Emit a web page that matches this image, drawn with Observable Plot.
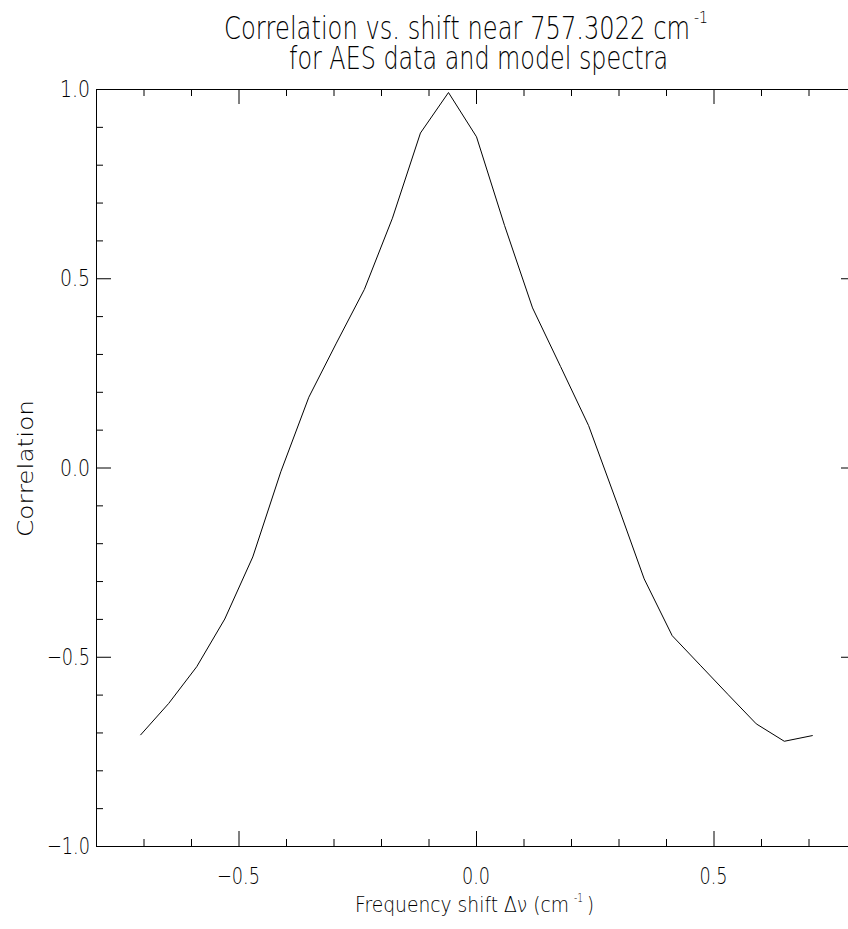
<!DOCTYPE html>
<html><head><meta charset="utf-8">
<script src="https://cdn.jsdelivr.net/npm/d3@7"></script>
<script src="https://cdn.jsdelivr.net/npm/@observablehq/plot@0.6"></script>
<style>
html,body{margin:0;padding:0;background:#fff;overflow:hidden;}
#chart svg{display:block;}
</style></head><body><div id="chart"></div>
<script>
// ---- data ----
const xShift = [-0.707,-0.648,-0.589,-0.530,-0.471,-0.412,-0.353,-0.295,-0.236,-0.177,-0.118,-0.059,0.000,0.059,0.118,0.177,0.236,0.295,0.353,0.412,0.471,0.530,0.589,0.648,0.707];
const correlation = [-0.705,-0.622,-0.525,-0.399,-0.235,-0.010,0.187,0.330,0.472,0.660,0.885,0.992,0.875,0.641,0.423,0.268,0.112,-0.090,-0.293,-0.443,-0.521,-0.599,-0.676,-0.722,-0.707];
const xDomain = [-0.8, 0.8];
const yDomain = [-1.0, 1.0];
const xMajorTicks = [-0.5, 0.0, 0.5];
const xMinorTicks = [-0.7,-0.6,-0.4,-0.3,-0.2,-0.1,0.1,0.2,0.3,0.4,0.6,0.7];
const yMajorTicks = [-1.0,-0.5,0.0,0.5,1.0];
const yMinorTicks = [-0.9,-0.8,-0.7,-0.6,-0.4,-0.3,-0.2,-0.1,0.1,0.2,0.3,0.4,0.6,0.7,0.8,0.9];
const xTickLabels = ["\u22120.5","0.0","0.5"];
const yTickLabels = ["\u22121.0","\u22120.5","0.0","0.5","1.0"];
const titleLine1 = "Correlation vs. shift near 757.3022 cm";
const titleLine2 = "for AES data and model spectra";
const xLabelMain = "Frequency shift \u0394\u03BD (cm";
const xLabelEnd = ")";
const yLabel = "Correlation";
const superscript = "-1";

const table = xShift.map((x, i) => ({x, c: correlation[i]}));

// ---- layout ----
const W = 848, H = 929;
const mL = 96, mR = -8, mT = 89, mB = 83;
const frameW = W - mL - mR, frameH = H - mT - mB;
const MAJ = 15, MIN = 7;
const FONT = "'DejaVu Sans ExtraLight','DejaVu Sans',sans-serif";

const chart = Plot.plot({
  width: W, height: H,
  marginLeft: mL, marginRight: mR, marginTop: mT, marginBottom: mB,
  style: {background: "#fff", fontFamily: FONT},
  x: {domain: xDomain, axis: null},
  y: {domain: yDomain, axis: null},
  marks: [
    Plot.frame({stroke: "#000", strokeWidth: 1}),
    Plot.tickX(xMajorTicks, {x: d => d, insetTop: frameH - MAJ, stroke: "#000"}),
    Plot.tickX(xMajorTicks, {x: d => d, insetBottom: frameH - MAJ, stroke: "#000"}),
    Plot.tickX(xMinorTicks, {x: d => d, insetTop: frameH - MIN, stroke: "#000"}),
    Plot.tickX(xMinorTicks, {x: d => d, insetBottom: frameH - MIN, stroke: "#000"}),
    Plot.tickY(yMajorTicks, {y: d => d, insetRight: frameW - MAJ, stroke: "#000"}),
    Plot.tickY(yMajorTicks, {y: d => d, insetLeft: frameW - MAJ, stroke: "#000"}),
    Plot.tickY(yMinorTicks, {y: d => d, insetRight: frameW - MIN, stroke: "#000"}),
    Plot.tickY(yMinorTicks, {y: d => d, insetLeft: frameW - MIN, stroke: "#000"}),
    Plot.line(table, {x: "x", y: "c", stroke: "#000", strokeWidth: 1})
  ]
});
document.getElementById("chart").appendChild(chart);

const svg = d3.select(chart);
const sx = chart.scale("x"), sy = chart.scale("y");
const g = svg.append("g").attr("font-family", FONT).attr("font-weight", 200).attr("fill", "#000");
function addText(str, x, y, size, anchor, len, transform) {
  const t = g.append("text").text(str)
    .attr("x", x).attr("y", y)
    .attr("font-size", size)
    .attr("text-anchor", anchor);
  if (len) t.attr("textLength", len).attr("lengthAdjust", "spacingAndGlyphs");
  if (transform) t.attr("transform", transform);
  return t;
}
// title line 1 + superscript
addText(titleLine1, 224, 39, 32, "start", 466);
addText(superscript, 694, 23, 15, "start", 14);
addText(titleLine2, 289, 69, 32, "start", 379);
// x axis label + superscript + closing paren
addText(xLabelMain, 355, 912, 22, "start", 214);
addText(superscript, 574, 902, 12, "start", 9);
addText(xLabelEnd, 587, 912, 22, "start", 7);
// y axis label
addText(yLabel, 0, 0, 22, "middle", 137, "translate(33,468.5) rotate(-90)");
// tick labels
xMajorTicks.forEach((v, i) => {
  const s = xTickLabels[i];
  addText(s, sx.apply(v), 884, 23, "middle", s.length > 3 ? 43 : 28);
});
yMajorTicks.forEach((v, i) => {
  const s = yTickLabels[i];
  addText(s, 90, sy.apply(v) + 8, 23, "end", s.length > 3 ? 43 : 30);
});
</script></body></html>
